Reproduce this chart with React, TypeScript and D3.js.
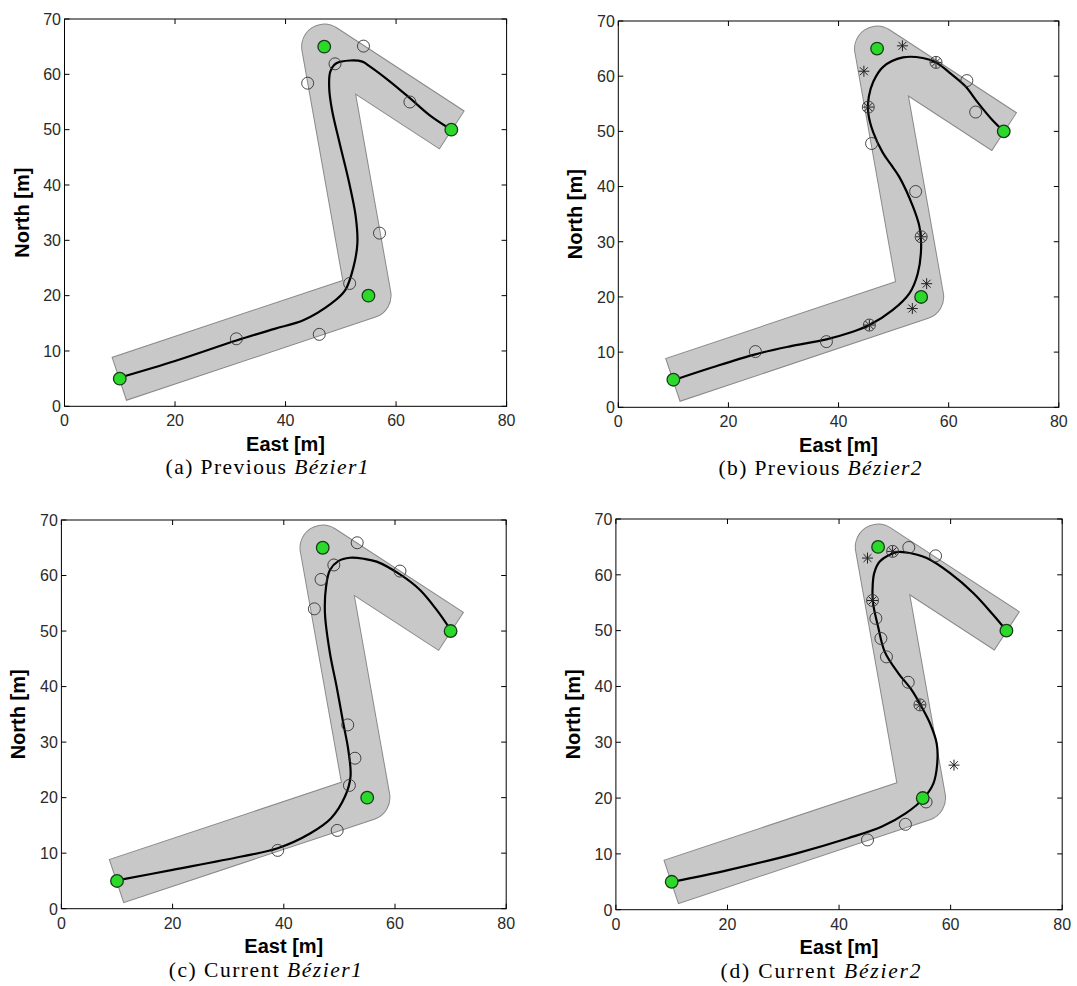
import * as d3 from "d3";

type Pt = [number, number];

// corridor and waypoints (East, North) in metres
const waypoints: Pt[] = [[10, 5], [55, 20], [47, 65], [70, 50]];
const corridorHalfWidth = 4;

const xTicks = [0, 20, 40, 60, 80];
const yTicks = [0, 10, 20, 30, 40, 50, 60, 70];

// (a) Previous Bezier1
const curveA: Pt[] = [
  [10, 5.2], [20, 8.2], [31.1, 11.9], [38, 14], [43.3, 15.6], [48.3, 18.6], [50.8, 21.0],
  [52.3, 25.2], [53, 29.5], [52.7, 34.3], [51.4, 40.9], [49.8, 47.5], [48.4, 53.6],
  [47.9, 57.5], [48.1, 60.5], [49.2, 62], [51.7, 62.5], [53.9, 62.3], [55.3, 61.4],
  [58.9, 58.7], [62.5, 55.7], [66.1, 52.6], [70, 50],
];
const circlesA: Pt[] = [
  [54.1, 65.1], [48.95, 61.9], [44.0, 58.4], [62.5, 55.0], [57.0, 31.3], [51.6, 22.2],
  [46.1, 13.0], [31.1, 12.2],
];

// (b) Previous Bezier2
const curveB: Pt[] = [
  [10, 4.9], [17, 7.2], [24.9, 9.6], [31, 11], [37.8, 12.3], [42, 13.5], [45.6, 14.9],
  [49.8, 17.6], [52.9, 20.7], [54.4, 24.3], [55, 29.1], [54.7, 32.7], [53.5, 36.4],
  [51, 41.8], [49.5, 44], [48, 46.2], [46.3, 49.8], [45.4, 53.3], [45.5, 56.3],
  [46.3, 59.0], [48.1, 61.7], [51.7, 63.4], [55.3, 63.3], [57.7, 62.5], [60.2, 60.6],
  [63.0, 58.2], [65.3, 55.2], [67.8, 52.2], [70, 50],
];
const circlesB: Pt[] = [
  [63.3, 59.2], [64.9, 53.5], [46.0, 47.8], [54.0, 39.1], [37.8, 11.9], [24.9, 10.1],
];
const starsB: Pt[] = [[51.6, 65.5], [44.6, 60.9], [56.0, 22.4], [53.4, 17.9]];
const circleStarsB: Pt[] = [[57.7, 62.5], [45.4, 54.4], [55.0, 30.9], [45.6, 14.9]];

// (c) Current Bezier1
const curveC: Pt[] = [
  [10, 5.1], [20, 7], [32.4, 9.4], [38.9, 10.9], [44.8, 13.6], [48.5, 16.3], [51, 20.2],
  [52, 23.8], [51.6, 28.6], [50.7, 33.4], [49.5, 40], [48.3, 46], [47.4, 53.2],
  [47.6, 58], [48.3, 61], [49.8, 62.6], [51.9, 63.2], [54.5, 63.0], [56.7, 62.5],
  [60.9, 60.2], [64.5, 57.4], [67.5, 53.8], [70, 50.2],
];
const circlesC: Pt[] = [
  [53.2, 65.9], [49.0, 61.9], [46.7, 59.3], [45.5, 54.0], [60.9, 60.8], [51.5, 33.1],
  [52.8, 27.1], [51.8, 22.2], [49.6, 14.1], [38.9, 10.5],
];

// (d) Current Bezier2
const curveD: Pt[] = [
  [10.1, 5], [20.1, 7.1], [32.4, 10.1], [41.6, 12.8], [47.7, 14.9], [52, 17.3],
  [55.1, 19.9], [56.9, 22.6], [57.6, 26.2], [57.5, 29.8], [56.3, 33.4], [55.1, 35.8],
  [53, 39.4], [50.6, 42.4], [48.2, 46.2], [47, 50.7], [46.1, 54.9], [46, 57.3],
  [46.3, 60.3], [47.3, 62.4], [50.3, 64.05], [52.1, 64.0], [55.7, 63.0], [59.9, 60.3],
  [64.1, 56.7], [67.65, 52.8], [70, 50],
];
const circlesD: Pt[] = [
  [52.5, 64.9], [57.3, 63.4], [46.6, 52.2], [47.5, 48.6], [48.5, 45.3], [52.4, 40.75],
  [51.9, 15.3], [45.1, 12.5], [55.6, 19.3],
];
const starsD: Pt[] = [[45.1, 63.0], [60.6, 25.9]];
const circleStarsD: Pt[] = [[49.6, 64.2], [46.0, 55.4], [54.5, 36.7]];

const panels = [
  { id: "a", word: "Previous", name: "Bézier1", curve: curveA, circles: circlesA, stars: [] as Pt[], circleStars: [] as Pt[],
    left: 64.5, right: 506.6, top: 19, bottom: 406.3, captionW: 203 },
  { id: "b", word: "Previous", name: "Bézier2", curve: curveB, circles: circlesB, stars: starsB, circleStars: circleStarsB,
    left: 618.3, right: 1058.8, top: 21, bottom: 407.3, captionW: 203 },
  { id: "c", word: "Current", name: "Bézier1", curve: curveC, circles: circlesC, stars: [] as Pt[], circleStars: [] as Pt[],
    left: 61.4, right: 506.2, top: 520, bottom: 908.7, captionW: 193 },
  { id: "d", word: "Current", name: "Bézier2", curve: curveD, circles: circlesD, stars: starsD, circleStars: circleStarsD,
    left: 615.9, right: 1062.2, top: 519, bottom: 909.7, captionW: 200 },
];

const sans = "'Liberation Sans', Arial, sans-serif";

function starPath(cx: number, cy: number, r: number) {
  const d = r * 0.72;
  return `M${cx - r},${cy}H${cx + r}M${cx},${cy - r}V${cy + r}` +
    `M${cx - d},${cy - d}L${cx + d},${cy + d}M${cx - d},${cy + d}L${cx + d},${cy - d}`;
}

function Panel({ p }: { p: (typeof panels)[number] }) {
  const x = d3.scaleLinear().domain([0, 80]).range([p.left, p.right]);
  const y = d3.scaleLinear().domain([0, 70]).range([p.bottom, p.top]);
  const line = d3.line<Pt>().x((d) => x(d[0])).y((d) => y(d[1]));
  const smooth = d3.line<Pt>().x((d) => x(d[0])).y((d) => y(d[1])).curve(d3.curveCatmullRom.alpha(0.5));

  const corridorW = (x(corridorHalfWidth) - x(0) + y(0) - y(corridorHalfWidth));
  // extend the outline path by 1px at both ends so the flat ends get an edge too
  const px = waypoints.map((d) => [x(d[0]), y(d[1])]);
  const ext = (a: number[], b: number[]) => {
    const dx = a[0] - b[0], dy = a[1] - b[1], l = Math.hypot(dx, dy);
    return [a[0] + dx / l, a[1] + dy / l];
  };
  const outline = [ext(px[0], px[1]), ...px.slice(1, -1), ext(px[px.length - 1], px[px.length - 2])];
  const outlinePath = "M" + outline.map((d) => d.join(",")).join("L");

  const tick = 5;
  const cx = (p.left + p.right) / 2;
  const cy = (p.top + p.bottom) / 2;

  return (
    <g>
      <clipPath id={`clip-${p.id}`}>
        <rect x={p.left} y={p.top} width={p.right - p.left} height={p.bottom - p.top} />
      </clipPath>
      <g clipPath={`url(#clip-${p.id})`}>
        <path d={outlinePath} fill="none" stroke="#8a8a8a" strokeWidth={corridorW + 2} strokeLinejoin="round" />
        <path d={line(waypoints) ?? ""} fill="none" stroke="#c8c8c8" strokeWidth={corridorW} strokeLinejoin="round" />
      </g>

      {/* axes box and ticks */}
      <rect x={p.left} y={p.top} width={p.right - p.left} height={p.bottom - p.top} fill="none" stroke="#000" strokeWidth={1} />
      {xTicks.map((t) => (
        <g key={`x${t}`}>
          <line x1={x(t)} x2={x(t)} y1={p.bottom} y2={p.bottom - tick} stroke="#000" />
          <line x1={x(t)} x2={x(t)} y1={p.top} y2={p.top + tick} stroke="#000" />
          <text x={x(t)} y={p.bottom + 20} textAnchor="middle" fontFamily={sans} fontSize={16} fill="#2a2a2a">{t}</text>
        </g>
      ))}
      {yTicks.map((t) => (
        <g key={`y${t}`}>
          <line x1={p.left} x2={p.left + tick} y1={y(t)} y2={y(t)} stroke="#000" />
          <line x1={p.right} x2={p.right - tick} y1={y(t)} y2={y(t)} stroke="#000" />
          <text x={p.left - 3.5} y={y(t) + 5.8} textAnchor="end" fontFamily={sans} fontSize={16} fill="#2a2a2a">{t}</text>
        </g>
      ))}
      <text x={cx} y={p.bottom + 44.5} textAnchor="middle" fontFamily={sans} fontSize={20} fontWeight="bold">East [m]</text>
      <text transform={`translate(${p.left - 36},${cy}) rotate(-90)`} textAnchor="middle" fontFamily={sans} fontSize={20} fontWeight="bold">North [m]</text>

      {/* curve and markers */}
      <path d={smooth(p.curve) ?? ""} fill="none" stroke="#000" strokeWidth={2.2} />
      {p.circles.map((d, i) => (
        <circle key={`c${i}`} cx={x(d[0])} cy={y(d[1])} r={6} fill="none" stroke="#333" strokeWidth={0.9} />
      ))}
      {p.circleStars.map((d, i) => (
        <g key={`cs${i}`}>
          <circle cx={x(d[0])} cy={y(d[1])} r={6} fill="none" stroke="#333" strokeWidth={0.9} />
          <path d={starPath(x(d[0]), y(d[1]), 5.5)} stroke="#222" strokeWidth={1} fill="none" />
        </g>
      ))}
      {p.stars.map((d, i) => (
        <path key={`s${i}`} d={starPath(x(d[0]), y(d[1]), 5.5)} stroke="#222" strokeWidth={1} fill="none" />
      ))}
      {waypoints.map((d, i) => (
        <circle key={`w${i}`} cx={x(d[0])} cy={y(d[1])} r={6.3} fill="#2bd92b" stroke="#1c3a1c" strokeWidth={1.3} />
      ))}

      <text x={cx - 18.5} y={p.bottom + 67.8} textAnchor="middle" fontFamily="'Liberation Serif', 'Times New Roman', serif"
        fontSize={21.5} textLength={p.captionW} lengthAdjust="spacing">
        {`(${p.id}) ${p.word} `}
        <tspan fontStyle="italic">{p.name}</tspan>
      </text>
    </g>
  );
}

export default function App() {
  return (
    <svg width={1077} height={986} viewBox="0 0 1077 986"
      style={{ position: "absolute", left: 0, top: 0, background: "#fff" }}>
      <rect width={1077} height={986} fill="#fff" />
      {panels.map((p) => <Panel key={p.id} p={p} />)}
    </svg>
  );
}
